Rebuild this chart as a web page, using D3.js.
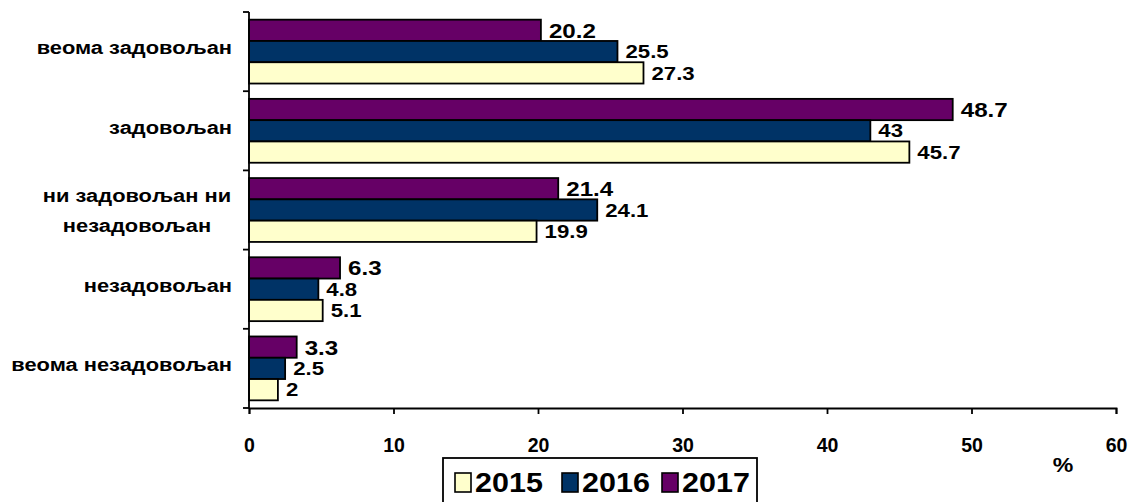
<!DOCTYPE html>
<html>
<head>
<meta charset="utf-8">
<script src="https://cdn.jsdelivr.net/npm/d3@7"></script>
<style>
  html, body { margin: 0; padding: 0; background: #fff; }
  svg { display: block; }
  text { font-family: "Liberation Sans", Arial, sans-serif; font-weight: bold; fill: #000; }
</style>
</head>
<body>
<svg id="chart" width="1132" height="502"></svg>
<script>
// Satisfaction levels (top to bottom) and survey results per year, in %
const categories = [
  ["веома задовољан"],
  ["задовољан"],
  ["ни задовољан ни", "незадовољан"],
  ["незадовољан"],
  ["веома незадовољан"]
];
const years = ["2017", "2016", "2015"];
const values2015 = [27.3, 45.7, 19.9, 5.1, 2];
const values2016 = [25.5, 43, 24.1, 4.8, 2.5];
const values2017 = [20.2, 48.7, 21.4, 6.3, 3.3];
const xTicks = [0, 10, 20, 30, 40, 50, 60];
const legendYears = ["2015", "2016", "2017"];

const colors = { "2015": "#FFFFCC", "2016": "#003366", "2017": "#660066" };
const seriesValues = { "2015": values2015, "2016": values2016, "2017": values2017 };

const svg = d3.select("#chart");
const plotLeft = 249, plotRight = 1116, plotTop = 12, plotBottom = 408;

const x = d3.scaleLinear().domain([0, 60]).range([plotLeft, plotRight]);
const y = d3.scaleBand().domain(d3.range(categories.length)).range([plotTop, plotBottom]);
const inner = d3.scaleBand().domain(years).range([0, y.bandwidth()]).paddingOuter(0.36).paddingInner(0);

// text placed at a point, drawn slightly wide
const place = (px, py, sx) => `translate(${px},${py}) scale(${sx},1)`;

// bars and value labels
years.forEach(yr => {
  const g = svg.append("g");
  const big = yr === "2017";
  g.selectAll("rect").data(seriesValues[yr]).join("rect")
    .attr("x", x(0))
    .attr("y", (d, i) => y(i) + inner(yr))
    .attr("width", d => x(d) - x(0))
    .attr("height", inner.bandwidth())
    .attr("fill", colors[yr])
    .attr("stroke", "#000")
    .attr("stroke-width", 1.8);
  g.selectAll("text").data(seriesValues[yr]).join("text")
    .attr("transform", (d, i) => place(x(d) + 8, y(i) + inner(yr) + inner.bandwidth() / 2, big ? 1.15 : 1.2))
    .attr("dy", "0.36em")
    .attr("font-size", big ? 21 : 18.5)
    .text(d => d);
});

// y axis with ticks at band boundaries
svg.append("line").attr("x1", plotLeft).attr("x2", plotLeft).attr("y1", plotTop).attr("y2", plotBottom)
  .attr("stroke", "#000").attr("stroke-width", 1.8);
d3.range(categories.length + 1).forEach(i => {
  const yy = plotTop + i * y.step();
  svg.append("line").attr("x1", plotLeft - 6).attr("x2", plotLeft).attr("y1", yy).attr("y2", yy)
    .attr("stroke", "#000").attr("stroke-width", 1.8);
});

// x axis
const xAxis = d3.axisBottom(x).tickValues(xTicks).tickSize(6).tickPadding(24).tickFormat(d3.format("d"));
const gx = svg.append("g").attr("transform", `translate(0,${plotBottom})`).call(xAxis);
gx.select(".domain").attr("stroke", "#000").attr("stroke-width", 1.8);
gx.selectAll(".tick line").attr("stroke", "#000").attr("stroke-width", 1.8);
gx.selectAll(".tick text").attr("font-size", 19.5).attr("font-family", null);

// category labels
categories.forEach((lines, i) => {
  const cy = y(i) + y.bandwidth() / 2;
  if (lines.length === 1) {
    svg.append("text").attr("transform", place(232, cy, 1.15)).attr("dy", "0.15em")
      .attr("text-anchor", "end").attr("font-size", 19).text(lines[0]);
  } else {
    lines.forEach((ln, k) => {
      svg.append("text").attr("transform", place(137, cy + (k - 0.5) * 30, 1.15)).attr("dy", "0.35em")
        .attr("text-anchor", "middle").attr("font-size", 19).text(ln);
    });
  }
});

// unit
svg.append("text").attr("transform", place(1063, 472, 1.1)).attr("text-anchor", "middle")
  .attr("font-size", 21).text("%");

// legend
const lg = svg.append("g");
lg.append("rect").attr("x", 443).attr("y", 458).attr("width", 314).attr("height", 60)
  .attr("fill", "#fff").attr("stroke", "#000").attr("stroke-width", 1.8);
const legendX = [455, 562, 662];
legendYears.forEach((yr, k) => {
  lg.append("rect").attr("x", legendX[k]).attr("y", 473).attr("width", 16).attr("height", 19)
    .attr("fill", colors[yr]).attr("stroke", "#000").attr("stroke-width", 1.6);
  lg.append("text").attr("transform", place(legendX[k] + 20, 492, 1.13)).attr("font-size", 27).text(yr);
});
</script>
</body>
</html>
